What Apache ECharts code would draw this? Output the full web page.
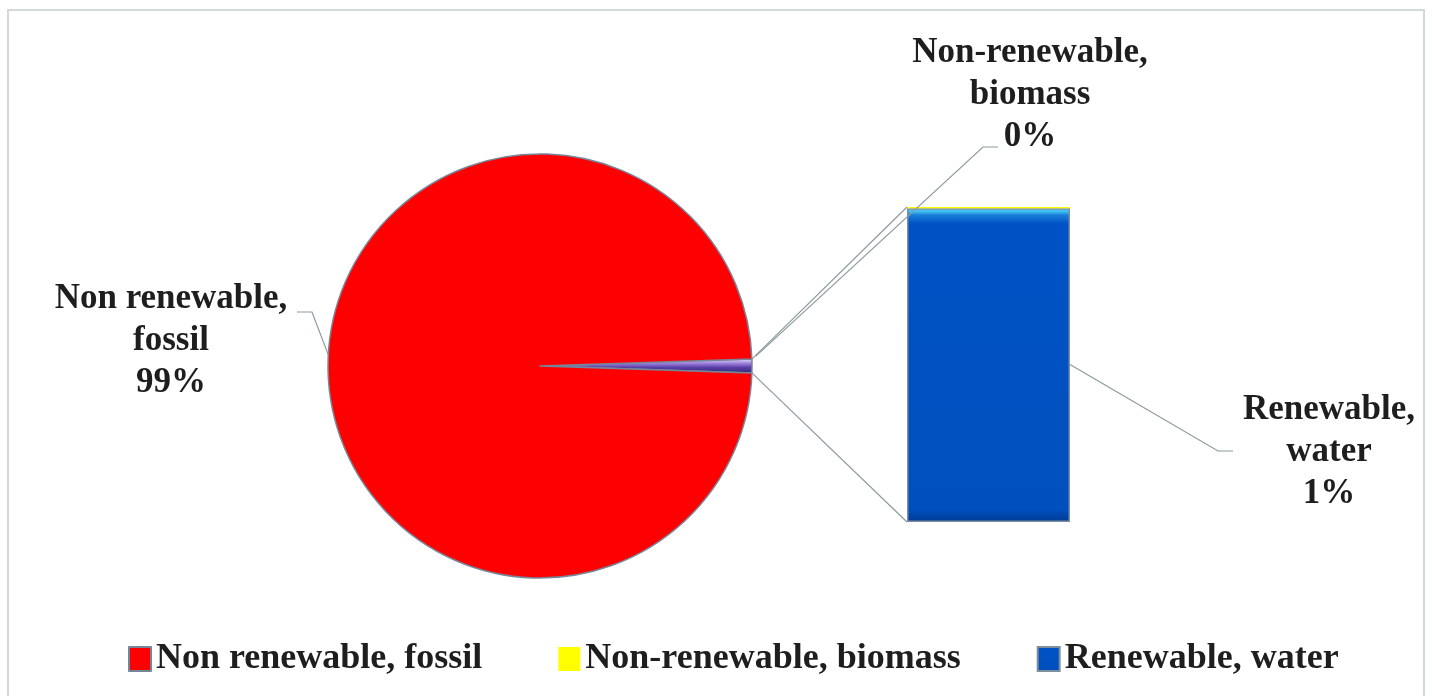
<!DOCTYPE html>
<html>
<head>
    <title>Energy sources</title>
    <meta charset="utf-8">
    <script type="text/javascript" src="https://cdn.jsdelivr.net/npm/echarts@6/dist/echarts.min.js"></script>
    <style>
        html, body { margin: 0; padding: 0; background: #fff; }
    </style>
</head>
<body>
<div id="chartmain" style="width:1432px; height: 696px;"></div>
<script type="text/javascript">
// data (shares in %)
var categories = ['Non renewable, fossil', 'Non-renewable, biomass', 'Renewable, water'];
var shares = [98.96, 0.004, 1.036];
var labelLines = [['Non renewable,', 'fossil'], ['Non-renewable,', 'biomass'], ['Renewable,', 'water']];

// layout
var pieCenter = [540, 366];
var pieRadius = 212;
var barGrid = { left: 907, top: 207, width: 163, height: 315 };
var serif = '"Liberation Serif", "Times New Roman", serif';
var lineColor = '#8c9a9e';

var otherTotal = shares[1] + shares[2];
var total = shares[0] + otherTotal;
// half of the "other" slice in degrees, so the slice points straight to the right
var halfAngle = otherTotal / total * 180;

function pct(v) {
    return Math.round(v / total * 100) + '%';
}

var option = {
    animation: false,
    legend: {
        data: categories,
        left: 128,
        top: 641,
        itemWidth: 22,
        itemHeight: 24,
        itemGap: 76,
        padding: 0,
        icon: 'rect',
        selectedMode: false,
        textStyle: { fontFamily: serif, fontSize: 36, fontWeight: 'bold', color: '#1e1e1e' }
    },
    grid: { left: barGrid.left, top: barGrid.top, width: barGrid.width, height: barGrid.height },
    xAxis: { type: 'category', data: ['other'], show: false },
    yAxis: { type: 'value', min: 0, max: otherTotal, show: false },
    series: [
        {
            name: 'pie',
            type: 'pie',
            center: pieCenter,
            radius: pieRadius,
            startAngle: halfAngle,
            clockwise: true,
            silent: true,
            label: { show: false },
            labelLine: { show: false },
            itemStyle: { borderColor: '#76869a', borderWidth: 1.5 },
            data: [
                {
                    name: 'other', value: otherTotal,
                    itemStyle: {
                        color: new echarts.graphic.LinearGradient(0, 0, 0, 1, [
                            { offset: 0, color: '#f4eeff' },
                            { offset: 0.3, color: '#a487e0' },
                            { offset: 0.6, color: '#5a3ea8' },
                            { offset: 1, color: '#2e2a6a' }
                        ])
                    }
                },
                { name: categories[0], value: shares[0], itemStyle: { color: '#ff0000' } }
            ]
        },
        {
            name: categories[2],
            type: 'bar',
            stack: 'other',
            barWidth: '100%',
            silent: true,
            itemStyle: {
                borderColor: '#7f8e9c',
                borderWidth: 1.5,
                color: new echarts.graphic.LinearGradient(0, 0, 0, 1, [
                    { offset: 0, color: '#5ad6f8' },
                    { offset: 0.012, color: '#3ab8f0' },
                    { offset: 0.022, color: '#1a7ed8' },
                    { offset: 0.05, color: '#0052c4' },
                    { offset: 0.96, color: '#004fbe' },
                    { offset: 1, color: '#003a94' }
                ])
            },
            data: [shares[2]]
        },
        {
            name: categories[1],
            type: 'bar',
            stack: 'other',
            barWidth: '100%',
            silent: true,
            itemStyle: { color: '#ffff00' },
            data: [shares[1]]
        }
    ]
};

var myChart = echarts.init(document.getElementById('chartmain'));
myChart.setOption(option);

// connector and leader lines from the real geometry
var rad = halfAngle * Math.PI / 180;
var pieTop = [pieCenter[0] + pieRadius * Math.cos(rad), pieCenter[1] - pieRadius * Math.sin(rad)];
var pieBottom = [pieCenter[0] + pieRadius * Math.cos(rad), pieCenter[1] + pieRadius * Math.sin(rad)];
var barMidX = myChart.convertToPixel({ xAxisIndex: 0 }, 0);
var barLeft = barMidX - barGrid.width / 2;
var barRight = barMidX + barGrid.width / 2;
var barTop = myChart.convertToPixel({ yAxisIndex: 0 }, otherTotal);
var barBottom = myChart.convertToPixel({ yAxisIndex: 0 }, 0);
var barMidY = myChart.convertToPixel({ yAxisIndex: 0 }, otherTotal / 2);
var fossilRad = (180 - 3) * Math.PI / 180;
var fossilEdge = [pieCenter[0] + pieRadius * Math.cos(fossilRad), pieCenter[1] - pieRadius * Math.sin(fossilRad)];

function line(points) {
    return {
        type: 'polyline', silent: true, z: 100,
        shape: { points: points },
        style: { stroke: lineColor, lineWidth: 1.2, fill: null }
    };
}

function label(x, y, idx) {
    return {
        type: 'text', silent: true, z: 100,
        style: {
            text: labelLines[idx].concat([pct(shares[idx])]).join('\n'),
            x: x, y: y,
            align: 'center', verticalAlign: 'middle',
            lineHeight: 42,
            font: 'bold 35px ' + serif,
            fill: '#1e1e1e'
        }
    };
}

myChart.setOption({
    graphic: [
        {
            type: 'rect', silent: true,
            shape: { x: 8, y: 10, width: 1416, height: 700 },
            style: { fill: null, stroke: '#d3d8d8', lineWidth: 2 }
        },
        line([pieTop, [barLeft, barTop]]),
        line([pieBottom, [barLeft, barBottom]]),
        line([[pieTop[0] + 4, pieTop[1] - 3], [983, 147], [998, 147]]),
        line([[barRight, barMidY], [1218, 451], [1233, 451]]),
        line([fossilEdge, [312, 312], [297, 312]]),
        label(171, 341, 0),
        label(1030, 95, 1),
        label(1329, 452, 2)
    ]
});
</script>
</body>
</html>
